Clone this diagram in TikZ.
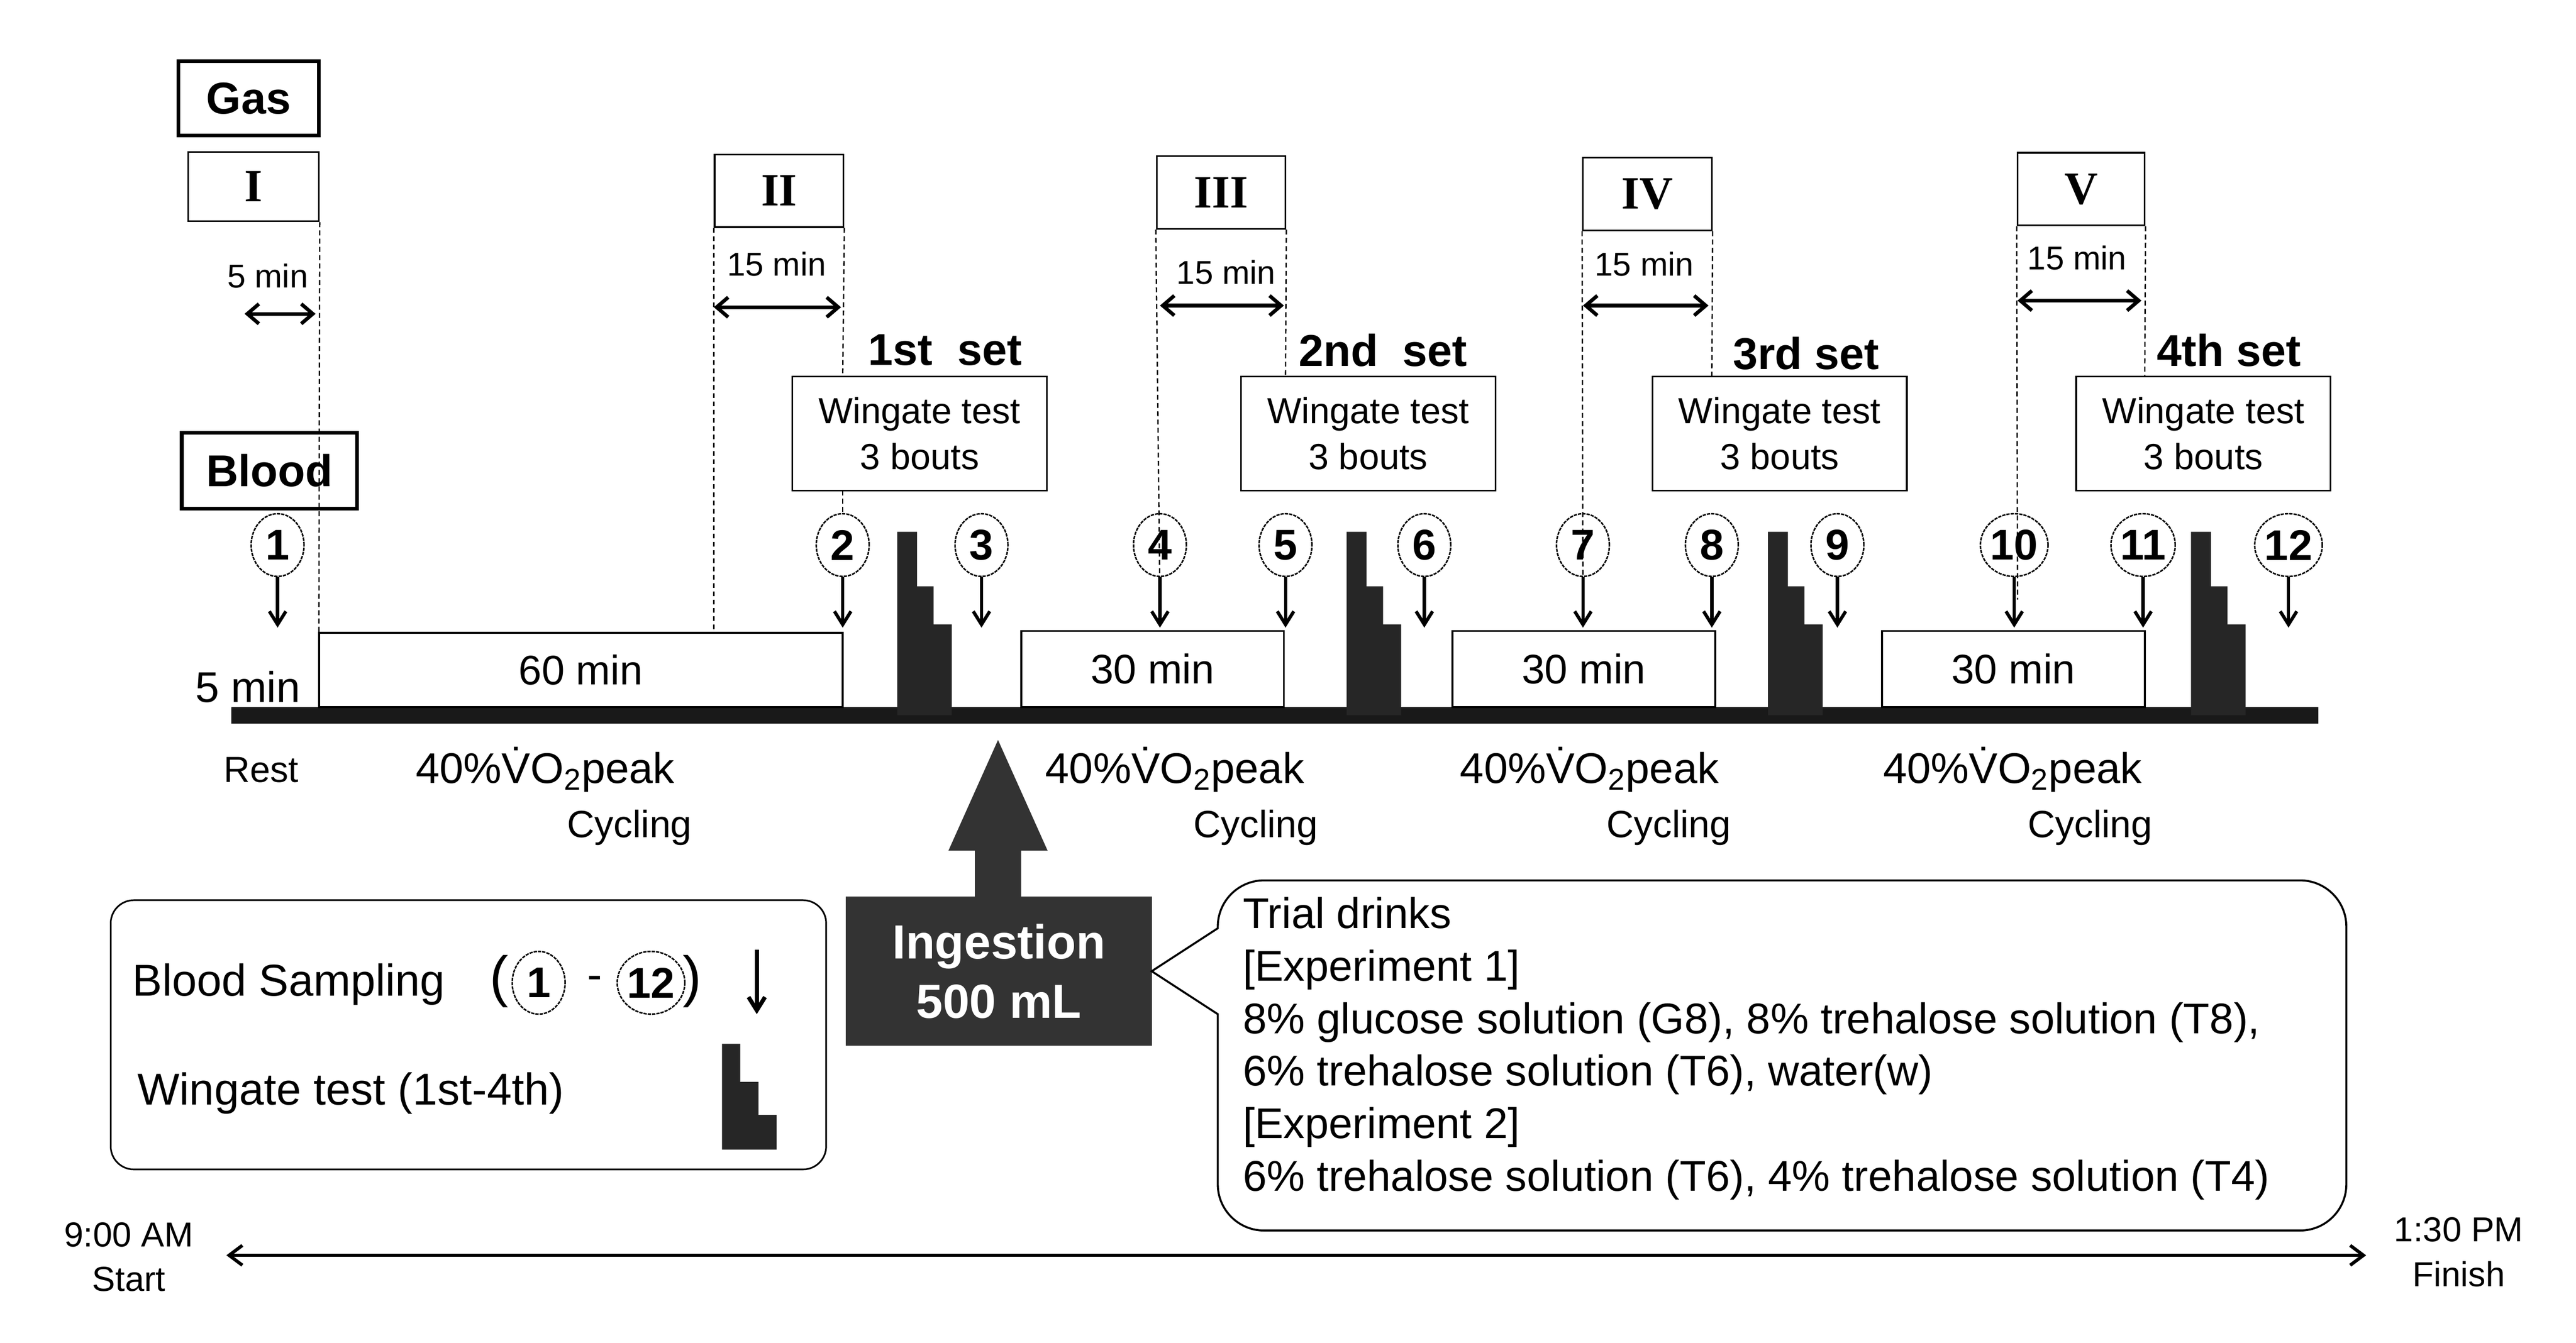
\documentclass[tikz,border=0pt]{standalone}
\usepackage{fontspec}
\setmainfont{Liberation Sans}
\newfontfamily\romf{Liberation Serif}
\usetikzlibrary{shapes.geometric,arrows.meta}
\begin{document}
\begin{tikzpicture}[x=1pt,y=-1pt,
  lbl/.style={font=\fontsize{25}{27}\selectfont, inner sep=0pt},
  sm/.style={font=\fontsize{20}{22}\selectfont, inner sep=0pt},
  rom/.style={draw, line width=1pt, minimum width=78pt, minimum height=44pt, font=\romf\bfseries\fontsize{28}{30}\selectfont},
  thickbox/.style={draw, line width=2.2pt, font=\bfseries\fontsize{27}{29}\selectfont, inner sep=0pt},
  wg/.style={draw, line width=1pt, minimum width=154pt, minimum height=69pt, align=center, font=\fontsize{22}{28}\selectfont},
  setl/.style={font=\bfseries\fontsize{27}{29}\selectfont, inner sep=0pt},
  cyc/.style={draw, line width=1.2pt, fill=white},
  cnum/.style={draw, ellipse, line width=0.9pt, dash pattern=on 2pt off 0.6pt, minimum width=32pt, minimum height=38pt, inner sep=0pt, font=\bfseries\fontsize{26}{28}\selectfont},
  bar/.style={-{Straight Barb[length=8pt,width=10pt]}, line width=2pt},
  dbl/.style={{Straight Barb[length=7pt,width=12pt]}-{Straight Barb[length=7pt,width=12pt]}, line width=2.2pt},
  dsh/.style={densely dashed, line width=0.8pt},
  wgate/.pic={\fill[black!85] (0,0) -- (0,-111) -- (12,-111) -- (12,-78) -- (22,-78) -- (22,-55) -- (33,-55) -- (33,0) -- cycle;}
]
\useasboundingbox (0,0) rectangle (1559,813);
% boxes at top
\node[thickbox, minimum width=85pt, minimum height=45pt] (gas) at (150.5,59.5) {Gas};
\node[rom, minimum width=79pt, minimum height=42pt] (r1) at (153.5,113) {I};
\node[rom] (r2) at (471.5,115.5) {II};
\node[rom] (r3) at (739,116.5) {III};
\node[rom] (r4) at (997,117.5) {IV};
\node[rom, minimum width=77pt] (r5) at (1259.5,114.5) {V};
\node[thickbox, minimum width=106pt, minimum height=46pt] (blood) at (163,285) {Blood};
% timeline
\coordinate (tl0) at (140,433); \coordinate (tl1) at (1403,433);
\draw[line width=10pt, black!90] (tl0) -- (tl1);
% cycling boxes
\draw[cyc] (193,428) rectangle (510,383) node[midway, lbl] (b60) {60 min};
\draw[cyc] (618,428) rectangle (777,382) node[midway, lbl] (b30a) {30 min};
\draw[cyc] (879,428) rectangle (1038,382) node[midway, lbl] (b30b) {30 min};
\draw[cyc] (1139,428) rectangle (1298,382) node[midway, lbl] (b30c) {30 min};
% dashed lines
\coordinate (d1b) at (193,383);
\draw[dsh] (r1.south east) -- (d1b);
\draw[dsh] (r2.south west) -- (432,383);
\draw[dsh] (r2.south east) -- (510,228);
\draw[dsh] (r3.south west) -- (702,363);
\draw[dsh] (r3.south east) -- (778,228);
\draw[dsh] (r4.south west) -- (958,363);
\draw[dsh] (r4.south east) -- (1036,228);
\draw[dsh] (r5.south west) -- (1221,363);
\draw[dsh] (r5.south east) -- (1298,228);
% 15 min arrows
\node[sm] (m5) at (162,167) {5 min};
\draw[dbl] (148,190) -- (191,190);
\node[sm] (m15a) at (470,160) {15 min};
\draw[dbl] (432,186) -- (509,186);
\node[sm] (m15b) at (742,165) {15 min};
\draw[dbl] (702,185) -- (777,185);
\node[sm] (m15c) at (995,160) {15 min};
\draw[dbl] (958,185) -- (1034,185);
\node[sm] (m15d) at (1257,156) {15 min};
\draw[dbl] (1221,182) -- (1296,182);
% sets
\node[setl] (s1) at (572,212) {1st\ \ set};
\node[setl] (s2) at (837,212) {2nd\ \ set};
\node[setl] (s3) at (1093,214) {3rd set};
\node[setl] (s4) at (1349,212) {4th set};
\node[wg] (w1) at (556.5,262.5) {Wingate test\\3 bouts};
\node[wg] (w2) at (828,262.5) {Wingate test\\3 bouts};
\node[wg] (w3) at (1077,262.5) {Wingate test\\3 bouts};
\node[wg] (w4) at (1333.5,262.5) {Wingate test\\3 bouts};
\draw[dsh] (510,297) -- (510,312);
% wingate bars
\pic at (543,433) {wgate};
\pic at (815,433) {wgate};
\pic at (1070,433) {wgate};
\pic at (1326,433) {wgate};
% circled numbers and arrows
\foreach \n/\x in {1/168,2/510,3/594,4/702,5/778,6/862,7/958,8/1036,9/1112,10/1219,11/1297,12/1385}{
  \node[cnum] (c\n) at (\x,330) {\n};
  \coordinate (a\n) at (\x,380);
  \draw[bar] (c\n.south) -- (a\n);
}
% labels under timeline
\node[lbl, font=\fontsize{22}{24}\selectfont] (rest) at (158,466) {Rest};
\node[lbl, font=\fontsize{26}{28}\selectfont] (m5b) at (150,416) {5 min};
\foreach \i/\x/\cx in {1/330/381,2/711/760,3/962/1010,4/1218/1265}{
  \node[lbl, font=\fontsize{26}{28}\selectfont] (vo\i) at (\x,466) {40\%\.{V}O\textsubscript{2}peak};
  \node[lbl, font=\fontsize{23}{25}\selectfont] (cy\i) at (\cx,501) {Cycling};
}
% ingestion
\node[draw=black!80, fill=black!80, text=white, minimum width=185pt, minimum height=90pt, align=center, font=\bfseries\fontsize{29}{36}\selectfont] (ing) at (604.5,588) {Ingestion\\500 mL};
\fill[black!80] (590,545) -- (590,515) -- (574,515) -- (604,448) -- (634,515) -- (618,515) -- (618,545) -- cycle;
% legend
\node[draw, line width=1pt, rounded corners=14pt, minimum width=433pt, minimum height=163pt] (leg) at (283.5,626.5) {};
\node[lbl, anchor=west, font=\fontsize{27}{29}\selectfont] (lb) at (80,596) {Blood Sampling};
\node[lbl, font=\fontsize{34}{36}\selectfont] (lp1) at (302,594) {(};
\node[cnum] (lc1) at (326,595) {1};
\node[lbl, font=\fontsize{27}{29}\selectfont] (ldash) at (360,595) {-};
\node[cnum] (lc12) at (394,595) {12};
\node[lbl, font=\fontsize{34}{36}\selectfont] (lp2) at (419,594) {)};
\coordinate (la0) at (458,575); \coordinate (la1) at (458,614);
\draw[bar, line width=2.5pt] (la0) -- (la1);
\node[lbl, anchor=west, font=\fontsize{27}{29}\selectfont] (lw) at (83,662) {Wingate test (1st-4th)};
\fill[black!85] (437,696) -- (437,632) -- (448,632) -- (448,655) -- (459,655) -- (459,675) -- (470,675) -- (470,696) -- cycle;
% trial drinks callout
\coordinate (ptr) at (697,588);
\draw[line width=1.2pt] (ptr) -- (737,562) [rounded corners=28pt] -- (737,533) -- (1420,533) -- (1420,745) -- (737,745) [sharp corners] -- (737,614) -- cycle;
\node[anchor=north west, align=left, inner sep=0pt, font=\fontsize{26}{31.8}\selectfont] (td) at (752,543) {Trial drinks\\{}[Experiment 1]\\8\% glucose solution (G8), 8\% trehalose solution (T8),\\6\% trehalose solution (T6), water(w)\\{}[Experiment 2]\\6\% trehalose solution (T6), 4\% trehalose solution (T4)};
% bottom time arrow
\coordinate (st) at (137,760); \coordinate (fi) at (1432,760);
\draw[{Straight Barb[length=8pt,width=12pt]}-{Straight Barb[length=8pt,width=12pt]}, line width=2pt] (st) -- (fi);
\node[lbl, align=center, font=\fontsize{21}{27}\selectfont] (start) at (78,761) {9:00 AM\\Start};
\node[lbl, align=center, font=\fontsize{21}{27}\selectfont] (finish) at (1488,758) {1:30 PM\\Finish};
\end{tikzpicture}
\end{document}
